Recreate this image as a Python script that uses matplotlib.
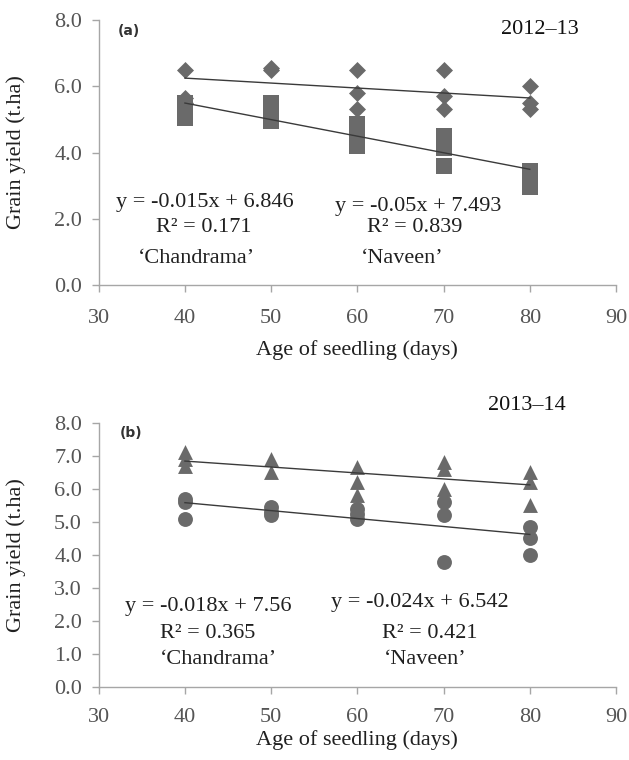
import matplotlib
matplotlib.use("Agg")
import matplotlib.pyplot as plt
import numpy as np

plt.rcParams['font.family'] = ['Liberation Serif', 'DejaVu Serif']

# panel (a) 2012-13
a_chan_x = [40, 40, 40, 50, 50, 60, 60, 60, 70, 70, 70, 80, 80, 80]
a_chan_y = [6.5, 5.65, 5.5, 6.5, 6.55, 6.5, 5.8, 5.3, 6.5, 5.7, 5.3, 6.0, 5.5, 5.3]
a_nav_x = [40, 40, 40, 40, 50, 50, 50, 50, 60, 60, 60, 60, 60, 70, 70, 70, 70, 80, 80]
a_nav_y = [5.5, 5.35, 5.2, 5.05, 5.5, 5.3, 5.1, 4.95, 4.85, 4.7, 4.5, 4.35, 4.2,
           4.5, 4.3, 4.15, 3.6, 3.45, 2.95]

# panel (b) 2013-14
b_chan_x = [40, 40, 40, 50, 50, 60, 60, 60, 70, 70, 70, 80, 80, 80]
b_chan_y = [7.1, 6.9, 6.7, 6.9, 6.5, 6.65, 6.2, 5.8, 6.8, 6.6, 6.0, 6.5, 6.2, 5.5]
b_nav_x = [40, 40, 40, 50, 50, 50, 60, 60, 60, 70, 70, 70, 80, 80, 80]
b_nav_y = [5.7, 5.6, 5.1, 5.45, 5.3, 5.2, 5.4, 5.25, 5.1, 5.6, 5.2, 3.8, 4.85, 4.5, 4.0]

# trend lines: slope, intercept
a_fit = {'chan': (-0.015, 6.846), 'nav': (-0.05, 7.493)}
b_fit = {'chan': (-0.018, 7.56), 'nav': (-0.024, 6.542)}
a_r2 = {'chan': 0.171, 'nav': 0.839}
b_r2 = {'chan': 0.365, 'nav': 0.421}

W, H = 629, 760
fig = plt.figure(figsize=(W / 100, H / 100), dpi=100)

mcol = '#6a6a6a'
lcol = '#3a3a3a'
scol = '#a6a6a6'
tcol = '#555555'


def px(x, y):
    return x / W, 1 - y / H


def style_axes(ax, yticks, xpad, lpad):
    ax.set_xlim(30, 90)
    ax.set_ylim(0, 8)
    ax.set_xticks(range(30, 91, 10))
    ax.set_yticks(yticks)
    ax.set_yticklabels([f"{t:.1f}" for t in yticks])
    for s in ['top', 'right']:
        ax.spines[s].set_visible(False)
    for s in ['left', 'bottom']:
        ax.spines[s].set_color(scol)
        ax.spines[s].set_linewidth(1)
    ax.tick_params(axis='both', colors=scol, labelcolor=tcol, labelsize=16,
                   length=5, width=1, direction='out')
    ax.tick_params(axis='x', pad=xpad)
    ax.tick_params(axis='y', pad=7)
    ax.set_xlabel('Age of seedling (days)', fontsize=16, color='#202020', labelpad=lpad)
    ax.set_ylabel('Grain yield (t.ha)', fontsize=16, color='#202020')


def trend(ax, fit):
    xs = np.array([40, 80])
    ax.plot(xs, fit[0] * xs + fit[1], color=lcol, lw=1, zorder=3)


# ---- panel (a)
ax1 = fig.add_axes([98.7 / W, 1 - 285 / H, (616 - 98.7) / W, 265 / H])
ax1.scatter(a_chan_x, a_chan_y, marker='D', s=75, color=mcol, lw=0, zorder=2)
ax1.scatter(a_nav_x, a_nav_y, marker='s', s=125, color=mcol, lw=0, zorder=2)
trend(ax1, a_fit['chan'])
trend(ax1, a_fit['nav'])
style_axes(ax1, [0, 2, 4, 6, 8], 12, 9)
ax1.yaxis.set_label_coords(-0.14, 0.5)

fig.text(*px(118, 31), '(a)', family='DejaVu Sans', fontweight='bold', fontsize=10,
         color='#333333', va='center')
fig.text(*px(540, 30), '2012\u201313', fontsize=16, ha='center', va='center', color='#111111')

tk = dict(fontsize=16, ha='center', va='center', color='#202020')
fig.text(*px(205, 203), f"y = {a_fit['chan'][0]}x + {a_fit['chan'][1]}", **tk)
fig.text(*px(204, 228), f"R\u00b2 = {a_r2['chan']}", **tk)
fig.text(*px(196, 258), '\u2018Chandrama\u2019', **tk)
fig.text(*px(418, 207), f"y = {a_fit['nav'][0]}x + {a_fit['nav'][1]}", **tk)
fig.text(*px(415, 228), f"R\u00b2 = {a_r2['nav']}", **tk)
fig.text(*px(402, 258), '\u2018Naveen\u2019', **tk)

# ---- panel (b)
ax2 = fig.add_axes([98.7 / W, 1 - 687.3 / H, (616 - 98.7) / W, 264.6 / H])
ax2.scatter(b_chan_x, b_chan_y, marker='^', s=115, color=mcol, lw=0, zorder=2)
ax2.scatter(b_nav_x, b_nav_y, marker='o', s=115, color=mcol, lw=0, zorder=2)
trend(ax2, b_fit['chan'])
trend(ax2, b_fit['nav'])
style_axes(ax2, [0, 1, 2, 3, 4, 5, 6, 7, 8], 10, 2)
ax2.yaxis.set_label_coords(-0.14, 0.5)

fig.text(*px(120, 433), '(b)', family='DejaVu Sans', fontweight='bold', fontsize=10,
         color='#333333', va='center')
fig.text(*px(527, 405), '2013\u201314', fontsize=16, ha='center', va='center', color='#111111')

fig.text(*px(208, 607), f"y = {b_fit['chan'][0]}x + {b_fit['chan'][1]}", **tk)
fig.text(*px(208, 633), f"R\u00b2 = {b_r2['chan']}", **tk)
fig.text(*px(218, 660), '\u2018Chandrama\u2019', **tk)
fig.text(*px(420, 603), f"y = {b_fit['nav'][0]}x + {b_fit['nav'][1]}", **tk)
fig.text(*px(430, 633), f"R\u00b2 = {b_r2['nav']}", **tk)
fig.text(*px(425, 660), '\u2018Naveen\u2019', **tk)

fig.savefig('out.png', dpi=100)
